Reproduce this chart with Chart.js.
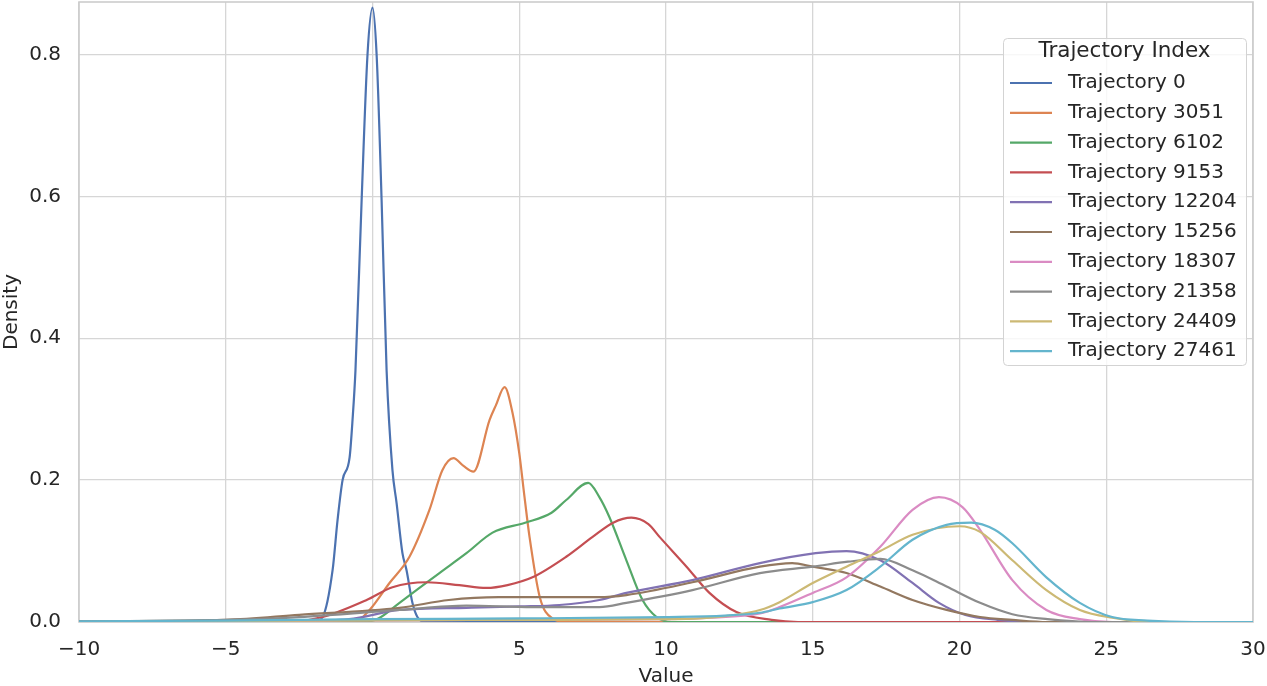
<!DOCTYPE html>
<html>
<head>
<meta charset="utf-8">
<script src="https://cdn.jsdelivr.net/npm/chart.js@4.4.1/dist/chart.umd.min.js"></script>
<style>
  html, body { margin: 0; padding: 0; background: #fff; }
</style>
</head>
<body>
<canvas id="kde" width="1267" height="686"></canvas>
<script>
const X_TICKS = [-10, -5, 0, 5, 10, 15, 20, 25, 30];
const Y_TICKS = [0, 0.2, 0.4, 0.6, 0.8];

const labels = ['Trajectory 0', 'Trajectory 3051', 'Trajectory 6102', 'Trajectory 9153', 'Trajectory 12204',
  'Trajectory 15256', 'Trajectory 18307', 'Trajectory 21358', 'Trajectory 24409', 'Trajectory 27461'];
const colors = ['#4c72b0', '#dd8452', '#55a868', '#c44e52', '#8172b3',
  '#937860', '#da8bc3', '#8c8c8c', '#ccb974', '#64b5cd'];

// density curves (x = value, y = density)
const t0x = [-10, -2, -1.7, -1.36, -1.19, -1.02, -0.78, -0.68, -0.58, -0.37, -0.17, 0, 0.14, 0.31, 0.48, 0.68, 0.82, 1.02, 1.16, 1.36, 1.53, 1.8, 30];
const t0y = [0, 0, 0.007, 0.073, 0.144, 0.2, 0.232, 0.285, 0.355, 0.595, 0.8, 0.866, 0.8, 0.595, 0.355, 0.214, 0.168, 0.097, 0.073, 0.027, 0.007, 0, 0];

const t3051x = [-10, -0.6, -0.1, 0.58, 1.26, 1.94, 2.38, 2.76, 3.1, 3.44, 3.99, 4.2, 4.5, 4.77, 5.0, 5.18, 5.35, 5.7, 6.13, 6.6, 30];
const t3051y = [0, 0, 0.017, 0.055, 0.092, 0.158, 0.214, 0.231, 0.22, 0.212, 0.285, 0.305, 0.331, 0.295, 0.238, 0.176, 0.12, 0.035, 0.005, 0, 0];

const t6102x = [-10, -0.3, 0.2, 0.92, 2.28, 3.2, 4.09, 5.2, 6.1, 6.6, 7.35, 7.73, 8.07, 8.65, 9.2, 9.68, 10.2, 30];
const t6102y = [0, 0, 0.005, 0.027, 0.069, 0.097, 0.126, 0.14, 0.154, 0.172, 0.196, 0.176, 0.148, 0.087, 0.031, 0.007, 0, 0];

const t9153x = [-10, -2.5, -1.7, -0.2, 0.68, 1.84, 2.96, 3.88, 4.6, 5.45, 6.6, 7.5, 8.2, 8.82, 9.4, 9.78, 10.7, 11.48, 12.4, 13.6, 14.5, 30];
const t9153y = [0, 0.002, 0.007, 0.031, 0.049, 0.056, 0.052, 0.048, 0.052, 0.063, 0.092, 0.12, 0.14, 0.147, 0.138, 0.12, 0.078, 0.041, 0.014, 0.003, 0, 0];

const t12204x = [-10, -3, -0.8, 0.92, 3.2, 5.0, 6.37, 7.73, 8.65, 10.9, 13.2, 15.1, 16.15, 17.3, 18.4, 19.3, 20.2, 21.3, 22.5, 30];
const t12204y = [0, 0.001, 0.004, 0.017, 0.02, 0.022, 0.024, 0.031, 0.041, 0.059, 0.083, 0.097, 0.1, 0.087, 0.055, 0.027, 0.01, 0.003, 0, 0];

const t15256x = [-10, -5, -2.5, 0.92, 2.6, 4.3, 6.37, 7.7, 8.65, 10.9, 13.2, 14.3, 15.0, 16.15, 17.3, 18.4, 19.56, 20.7, 21.8, 23, 30];
const t15256y = [0.001, 0.003, 0.01, 0.02, 0.031, 0.035, 0.035, 0.035, 0.038, 0.056, 0.078, 0.083, 0.078, 0.069, 0.05, 0.031, 0.017, 0.007, 0.003, 0, 0];

const t18307x = [-10, -2, 5, 10, 11.5, 13.2, 13.87, 15.0, 16.15, 17.3, 18.4, 19.3, 20.1, 20.7, 21.8, 22.96, 24.1, 25.2, 30];
const t18307y = [0, 0.002, 0.003, 0.004, 0.006, 0.012, 0.021, 0.041, 0.063, 0.106, 0.158, 0.176, 0.162, 0.13, 0.059, 0.017, 0.004, 0, 0];

const t21358x = [-10, -5, -2.5, 0.92, 3.2, 5.45, 7.73, 8.65, 10.9, 13.2, 15.0, 16.2, 17.3, 18.4, 19.56, 20.7, 21.8, 23, 24.5, 30];
const t21358y = [0.001, 0.003, 0.007, 0.017, 0.023, 0.021, 0.021, 0.027, 0.045, 0.069, 0.078, 0.085, 0.089, 0.073, 0.05, 0.027, 0.011, 0.004, 0, 0];

const t24409x = [-10, -2, 5, 10, 11.5, 13.2, 13.87, 15.0, 16.15, 17.3, 18.4, 20.0, 20.7, 21.8, 22.96, 24.1, 25.2, 26.5, 30];
const t24409y = [0, 0.002, 0.003, 0.004, 0.006, 0.017, 0.028, 0.055, 0.078, 0.1, 0.123, 0.135, 0.127, 0.087, 0.045, 0.017, 0.006, 0, 0];

const t27461x = [-10, -5, 0, 5, 10, 12, 13.2, 13.87, 15.0, 16.15, 17.3, 18.4, 19.56, 20.4, 21.2, 21.8, 22.96, 24.1, 25.2, 26.4, 28, 30];
const t27461y = [0.001, 0.002, 0.004, 0.005, 0.007, 0.009, 0.013, 0.019, 0.028, 0.045, 0.078, 0.116, 0.137, 0.14, 0.13, 0.111, 0.063, 0.027, 0.007, 0.002, 0, 0];

const seriesX = [t0x, t3051x, t6102x, t9153x, t12204x, t15256x, t18307x, t21358x, t24409x, t27461x];
const seriesY = [t0y, t3051y, t6102y, t9153y, t12204y, t15256y, t18307y, t21358y, t24409y, t27461y];

const FONT = 'DejaVu Sans';
const TEXT = '#262626';
const GRID = '#d6d6d6';

const datasets = labels.map((name, i) => ({
  label: name,
  data: seriesX[i].map((x, k) => ({ x: x, y: seriesY[i][k] })),
  borderColor: colors[i],
  backgroundColor: colors[i],
  borderWidth: 2.2,
  pointRadius: 0,
  fill: false,
  cubicInterpolationMode: 'monotone',
  order: labels.length - i,
}));

// spines on all four sides, drawn under the lines
const frame = {
  id: 'frame',
  beforeDatasetsDraw(chart) {
    const { ctx, chartArea: a } = chart;
    ctx.save();
    ctx.strokeStyle = '#cccccc';
    ctx.lineWidth = 1.6;
    ctx.strokeRect(a.left, a.top, a.right - a.left, a.bottom - a.top);
    ctx.restore();
  },
};

// matplotlib-style legend box in the upper right
const boxLegend = {
  id: 'boxLegend',
  afterDraw(chart) {
    const ctx = chart.ctx;
    const x0 = 1003, y0 = 38, w = 243, h = 327, r = 4;
    ctx.save();
    ctx.beginPath();
    ctx.roundRect(x0 + 0.5, y0 + 0.5, w, h, r);
    ctx.fillStyle = 'rgba(255,255,255,0.8)';
    ctx.fill();
    ctx.strokeStyle = '#d3d3d3';
    ctx.lineWidth = 1;
    ctx.stroke();
    ctx.fillStyle = TEXT;
    ctx.textBaseline = 'middle';
    ctx.textAlign = 'center';
    ctx.font = '21.5px "' + FONT + '"';
    ctx.fillText('Trajectory Index', x0 + w / 2, 51);
    ctx.textAlign = 'left';
    ctx.font = '20px "' + FONT + '"';
    labels.forEach((name, i) => {
      const y = 83 + i * 29.8;
      ctx.strokeStyle = colors[i];
      ctx.lineWidth = 2.2;
      ctx.beginPath();
      ctx.moveTo(1010, y);
      ctx.lineTo(1052, y);
      ctx.stroke();
      ctx.fillStyle = TEXT;
      ctx.fillText(name, 1068, y);
    });
    ctx.restore();
  },
};

new Chart(document.getElementById('kde'), {
  type: 'line',
  data: { datasets: datasets },
  plugins: [frame, boxLegend],
  options: {
    responsive: false,
    animation: false,
    layout: { padding: { top: 2, right: 14, left: 0, bottom: 0 } },
    plugins: {
      legend: { display: false },
      tooltip: { enabled: false },
    },
    scales: {
      x: {
        type: 'linear',
        min: -10,
        max: 30,
        afterBuildTicks: (s) => { s.ticks = X_TICKS.map((v) => ({ value: v })); },
        afterFit: (s) => { s.height = 64; s.paddingLeft = 0; s.paddingRight = 0; },
        grid: { color: GRID, lineWidth: 1.3, drawTicks: false },
        border: { display: false },
        ticks: {
          padding: 16,
          color: TEXT,
          font: { family: FONT, size: 20 },
          callback: (v) => (v < 0 ? '\u2212' + Math.abs(v) : String(v)),
        },
        title: { display: true, text: 'Value', color: TEXT, font: { family: FONT, size: 20 }, padding: { top: 0, bottom: -3 } },
      },
      y: {
        type: 'linear',
        min: 0,
        max: 0.874,
        afterBuildTicks: (s) => { s.ticks = Y_TICKS.map((v) => ({ value: v })); },
        afterFit: (s) => { s.width = 79; s.paddingTop = 0; s.paddingBottom = 0; },
        grid: { color: GRID, lineWidth: 1.3, drawTicks: false },
        border: { display: false },
        ticks: {
          padding: 18,
          color: TEXT,
          font: { family: FONT, size: 20 },
          callback: (v) => v.toFixed(1),
        },
        title: { display: true, text: 'Density', color: TEXT, font: { family: FONT, size: 20 }, padding: { top: 0, bottom: 0 } },
      },
    },
  },
});
</script>
</body>
</html>
